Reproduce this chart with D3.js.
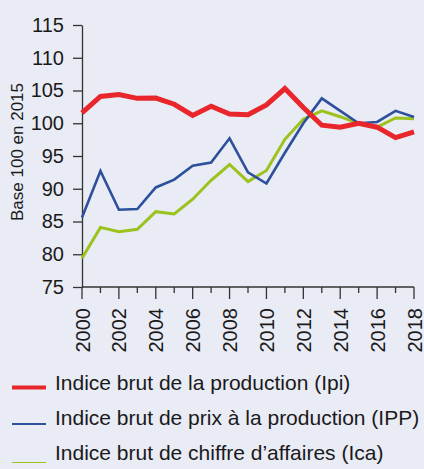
<!DOCTYPE html>
<html><head><meta charset="utf-8">
<script src="https://cdn.jsdelivr.net/npm/d3@7"></script>
<style>
html,body{margin:0;padding:0;background:#e9ebf5;}
svg{display:block;font-family:"Liberation Sans",Arial,sans-serif;}
</style></head>
<body>
<svg id="chart" width="424" height="469"></svg>
<script>
const years = [2000,2001,2002,2003,2004,2005,2006,2007,2008,2009,2010,2011,2012,2013,2014,2015,2016,2017,2018];
const ipi = [101.6,104.1,104.4,103.8,103.85,102.9,101.2,102.6,101.4,101.3,102.8,105.3,102.4,99.7,99.4,100.0,99.4,97.8,98.7];
const ipp = [85.6,92.7,86.8,86.9,90.2,91.4,93.5,94.0,97.7,92.5,90.8,95.5,100.0,103.8,101.9,100.0,100.2,101.9,100.95];
const ica = [79.4,84.1,83.45,83.8,86.5,86.15,88.4,91.3,93.7,91.1,92.8,97.55,100.6,101.9,101.0,99.95,99.4,100.8,100.7];
const yTicks = [75,80,85,90,95,100,105,110,115];
const xTickLabels = [2000,2002,2004,2006,2008,2010,2012,2014,2016,2018];
const seriesNames = ["Indice brut de la production (Ipi)","Indice brut de prix à la production (IPP)","Indice brut de chiffre d\u2019affaires (Ica)"];
const seriesColors = ["#e8262b","#2d4f9c","#9cc21e"];
const yTitle = "Base 100 en 2015";

const svg = d3.select("#chart");
const x = d3.scaleLinear().domain([2000,2018]).range([82,414]);
const y = d3.scaleLinear().domain([75,115]).range([287,25]);
const axisColor = "#333";
const textColor = "#1a1a1a";

// Y axis
const yAxis = d3.axisLeft(y).tickValues(yTicks).tickSize(9).tickPadding(9).tickSizeOuter(0);
const gy = svg.append("g").attr("transform","translate(82,0)").call(yAxis);
gy.selectAll("text").attr("font-size",20).attr("fill",textColor).attr("font-family","Liberation Sans, Arial, sans-serif");
gy.selectAll("line,path").attr("stroke",axisColor).attr("stroke-width",1.3);

// X axis with minor ticks
const gx = svg.append("g").attr("transform","translate(0,287)");
gx.append("line").attr("x1",x(2000)).attr("x2",x(2018)).attr("y1",0).attr("y2",0).attr("stroke",axisColor).attr("stroke-width",1.3);
gx.selectAll("line.tk").data(years).enter().append("line").attr("class","tk")
  .attr("x1",d=>x(d)).attr("x2",d=>x(d)).attr("y1",0)
  .attr("y2",d=>(d%2===0?12:6)).attr("stroke",axisColor).attr("stroke-width",1.3);
gx.selectAll("text").data(xTickLabels).enter().append("text")
  .attr("transform",d=>`translate(${x(d)+7.5},21) rotate(-90)`)
  .attr("text-anchor","end").attr("font-size",20).attr("fill",textColor)
  .text(d=>d);

// Y title
svg.append("text").attr("transform","translate(23,152) rotate(-90)")
  .attr("text-anchor","middle").attr("font-size",17).attr("fill",textColor).text(yTitle);

// Lines
const line = d3.line().x((d,i)=>x(years[i])).y(d=>y(d));
const widths = [5,2.6,3];
const all = [ipi, ipp, ica];
[2,1,0].forEach(k=>{
  svg.append("path").datum(all[k]).attr("d",line).attr("fill","none")
    .attr("stroke",seriesColors[k]).attr("stroke-width",widths[k]).attr("stroke-linejoin","miter");
});

// Legend
const legW = [4,2,1.2];
const legLineY = [387.5,424,462.5];
const legTextY = [390,425,460];
seriesNames.forEach((n,i)=>{
  svg.append("line").attr("x1",12).attr("x2",46).attr("y1",legLineY[i]).attr("y2",legLineY[i])
    .attr("stroke",seriesColors[i]).attr("stroke-width",legW[i]);
  svg.append("text").attr("x",55).attr("y",legTextY[i]).attr("font-size",21).attr("fill",textColor).text(n);
});
</script>
</body></html>
